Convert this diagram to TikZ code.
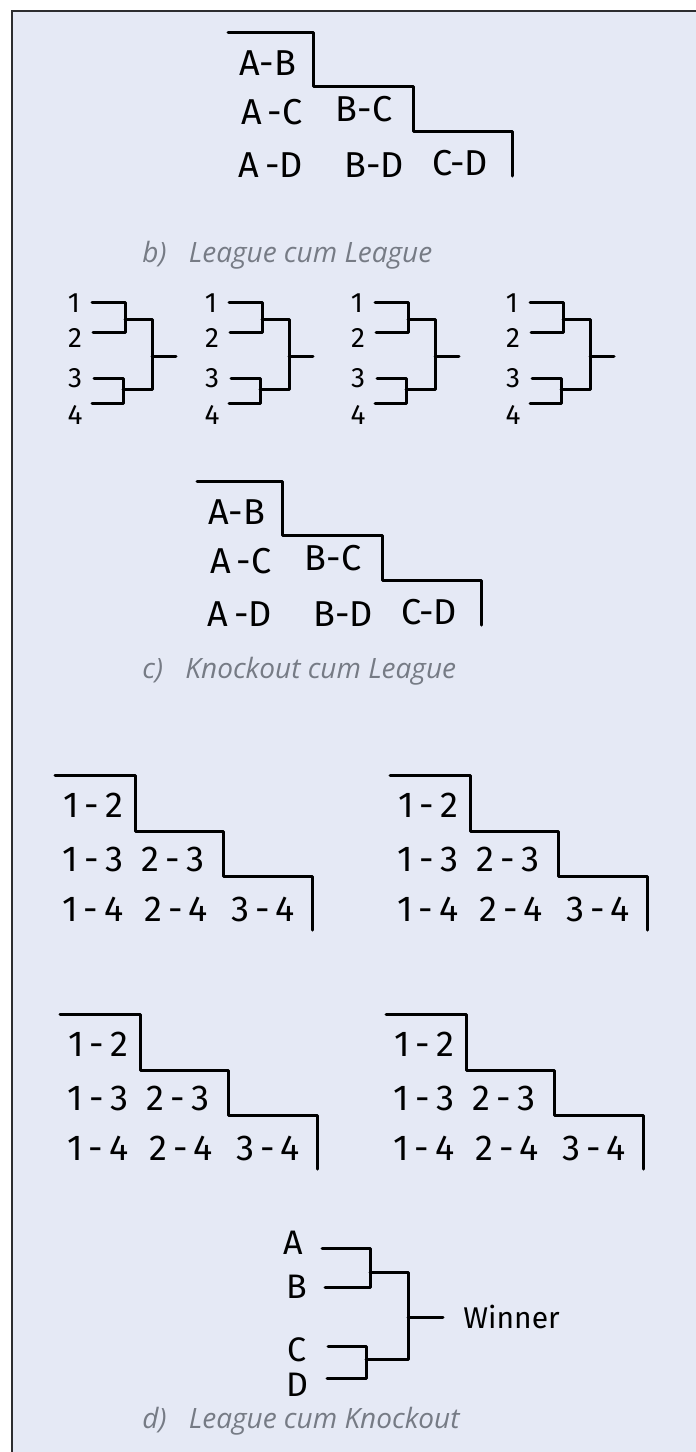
\documentclass[tikz,border=0pt]{standalone}
\usepackage{fontspec}
\setmainfont{Fira Sans}
\newfontfamily\capfont{Open Sans}
\usetikzlibrary{positioning}
\definecolor{sheet}{RGB}{229,233,245}
\definecolor{capgray}{RGB}{118,123,133}
\definecolor{rim}{RGB}{45,45,48}

\begin{document}
\begin{tikzpicture}[
    x=0.5pt,y=-0.5pt,
    hand/.style={font=\fontsize{18}{18}\selectfont,inner sep=1pt},
    seed/.style={font=\fontsize{14}{14}\selectfont,inner sep=1pt},
    pen/.style={line width=1.5pt,line join=round,line cap=round},
    caption/.style={font=\capfont\itshape\fontsize{14}{14}\selectfont,text=capgray,anchor=west,inner sep=0pt}]
  \useasboundingbox (0,0) rectangle (696,1452);
  \fill[white] (0,0) rectangle (696,1452);
  \fill[sheet] (12,11) rectangle (696,1452);
  \draw[rim,line width=1.1pt] (12,1452) -- (12,11) -- (696,11);

  % four teams A-D: league tables
  \foreach \sx/\sy/\nm in {228/32/ll,197/481/kl} {
    \begin{scope}[shift={(\sx,\sy)}]
      \draw[pen] (0,0) -| (85,54) -| (185,99) -| (284,144);
      \node[hand] (\nm-ab) at (40,31) {A-B};
      \node[hand] (\nm-ac) at (44,80) {A\,-C};
      \node[hand] (\nm-bc) at (136,77) {B-C};
      \node[hand] (\nm-ad) at (43,133) {A\,-D};
      \node[hand] (\nm-bd) at (146,133) {B-D};
      \node[hand] (\nm-cd) at (232,131) {C-D};
    \end{scope}
  }
  \node[caption] (cap-b) at (142,255) {b)\hspace{0.8em}League cum League};

  % knockout inside each pool
  \foreach \g/\lx in {1/72,2/209,3/355,4/510} {
    \begin{scope}[shift={(\lx,0)}]
      \node[seed] (p\g-n1) at (2,303) {1};
      \node[seed] (p\g-n2) at (3,338) {2};
      \node[seed] (p\g-n3) at (3,378) {3};
      \node[seed] (p\g-n4) at (3,415) {4};
      \coordinate (p\g-1) at (20,302);
      \coordinate (p\g-2) at (21,332);
      \coordinate (p\g-3) at (22,378);
      \coordinate (p\g-4) at (20,403);
      \coordinate (p\g-t) at (53,319);
      \coordinate (p\g-b) at (51,389);
      \coordinate (p\g-f) at (80,356);
      \coordinate (p\g-o) at (104,356);
      \draw[pen] (p\g-1) -| (p\g-t) |- (p\g-2);
      \draw[pen] (p\g-3) -| (p\g-b) |- (p\g-4);
      \draw[pen] (p\g-t) -| (p\g-f);
      \draw[pen] (p\g-b) -| (p\g-f);
      \draw[pen] (p\g-f) -- (p\g-o);
    \end{scope}
  }
  \node[caption] (cap-c) at (142,671) {c)\hspace{0.8em}Knockout cum League};

  % league inside each pool
  \foreach \sx/\sy/\nm in {55/775/q1,390/775/q2,60/1014/q3,386/1014/q4} {
    \begin{scope}[shift={(\sx,\sy)}]
      \draw[pen] (0,0) -| (80,56) -| (168,101) -| (257,155);
      \node[hand] (\nm-12) at (38,30) {1\,-\,2};
      \node[hand] (\nm-13) at (38,84) {1\,-\,3};
      \node[hand] (\nm-23) at (118,84) {2\,-\,3};
      \node[hand] (\nm-14) at (38,134) {1\,-\,4};
      \node[hand] (\nm-24) at (121,134) {2\,-\,4};
      \node[hand] (\nm-34) at (208,134) {3\,-\,4};
    \end{scope}
  }

  % final knockout of pool toppers
  \node[hand,font=\fontsize{17}{17}\selectfont] (ta) at (293,1243) {A};
  \node[hand,font=\fontsize{17}{17}\selectfont] (tb) at (297,1287) {B};
  \node[hand,font=\fontsize{17}{17}\selectfont] (tc) at (297,1350) {C};
  \node[hand,font=\fontsize{17}{17}\selectfont] (td) at (297,1385) {D};
  \coordinate (ka) at (322,1248);
  \coordinate (kb) at (325,1287);
  \coordinate (kc) at (328,1346);
  \coordinate (kd) at (327,1378);
  \coordinate (kab) at (370,1272);
  \coordinate (kcd) at (366,1359);
  \coordinate (kf) at (408,1317);
  \coordinate (ko) at (443,1317);
  \draw[pen] (ka) -| (kab) |- (kb);
  \draw[pen] (kc) -| (kcd) |- (kd);
  \draw[pen] (kab) -| (kf);
  \draw[pen] (kcd) -| (kf);
  \draw[pen] (kf) -- (ko);
  \node[hand,font=\fontsize{15}{15}\selectfont,right=9pt of ko] (winner) {Winner};
  \node[caption] (cap-d) at (142,1421) {d)\hspace{0.8em}League cum Knockout};
\end{tikzpicture}
\end{document}
